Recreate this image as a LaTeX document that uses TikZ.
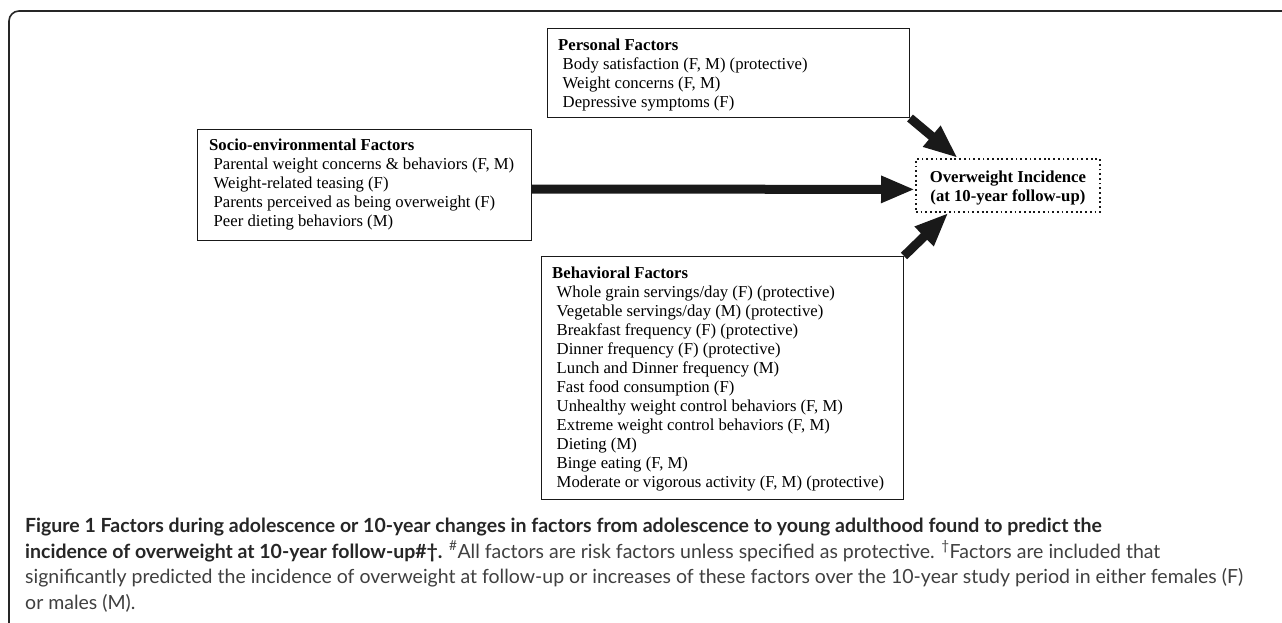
\documentclass[tikz,border=0pt]{standalone}
\usepackage{fontspec}
\setmainfont{Liberation Serif}
\newfontfamily\capfont{Lato}
\usetikzlibrary{arrows.meta,calc}
\newcommand\facitem[1]{\hspace*{4.5pt}#1}
\begin{document}
\begin{tikzpicture}[x=1pt,y=-1pt,
  framestyle/.style={draw=black!85, line width=1.6pt, rounded corners=10pt},
  factorbox/.style={draw=black!90, line width=1pt, inner sep=0pt, anchor=north west},
  owbox/.style={draw=black!90, line width=1.8pt, dash pattern=on 1.8pt off 2.9pt, inner sep=0pt, anchor=north west},
  boxtext/.style={anchor=base west, inner sep=0pt, font=\fontsize{16.7}{19}\selectfont},
  captext/.style={anchor=base west, inner sep=0pt, text=black!75, font=\capfont\fontsize{19.5}{25}\selectfont},
  fatarrow/.style={line width=9pt, draw=black!90, -{Triangle[length=34pt,width=25pt]}}]
\useasboundingbox (0,0) rectangle (1282,622);
\fill[white] (0,0) rectangle (1282,622);
% frame
\draw[framestyle] (9,623) -- (9,11) -- (1283,11);
% boxes
\node[factorbox, minimum width=362pt, minimum height=89pt] (pers) at (547,28) {};
\node[factorbox, minimum width=334pt, minimum height=111pt] (soc) at (197,129) {};
\node[factorbox, minimum width=362pt, minimum height=243pt] (beh) at (541,256) {};
\node[owbox, minimum width=184pt, minimum height=53pt] (ow) at (915,158) {};
% texts
\node[boxtext] (perst) at (558,50) {\begin{tabular}[t]{@{}l@{}}
\textbf{Personal Factors}\\
\facitem{Body satisfaction (F, M) (protective)}\\
\facitem{Weight concerns (F, M)}\\
\facitem{Depressive symptoms (F)}
\end{tabular}};
\node[boxtext] (soct) at (209,150) {\begin{tabular}[t]{@{}l@{}}
\textbf{Socio-environmental Factors}\\
\facitem{Parental weight concerns \& behaviors (F, M)}\\
\facitem{Weight-related teasing (F)}\\
\facitem{Parents perceived as being overweight (F)}\\
\facitem{Peer dieting behaviors (M)}
\end{tabular}};
\node[boxtext] (beht) at (552,278) {\begin{tabular}[t]{@{}l@{}}
\textbf{Behavioral Factors}\\
\facitem{Whole grain servings/day (F) (protective)}\\
\facitem{Vegetable servings/day (M) (protective)}\\
\facitem{Breakfast frequency (F) (protective)}\\
\facitem{Dinner frequency (F) (protective)}\\
\facitem{Lunch and Dinner frequency (M)}\\
\facitem{Fast food consumption (F)}\\
\facitem{Unhealthy weight control behaviors (F, M)}\\
\facitem{Extreme weight control behaviors (F, M)}\\
\facitem{Dieting (M)}\\
\facitem{Binge eating (F, M)}\\
\facitem{Moderate or vigorous activity (F, M) (protective)}
\end{tabular}};
\node[inner sep=0pt, font=\bfseries\fontsize{16.7}{19}\selectfont, yshift=-3pt] (owt) at (ow.center) {\begin{tabular}{@{}c@{}}
Overweight Incidence\\(at 10-year follow-up)\end{tabular}};
% arrows
\draw[fatarrow] ([yshift=-4pt]soc.east) -- ([yshift=-4pt]ow.west);
\draw[fatarrow] (pers.south east) -- ($(ow.north west)!0.23!(ow.north east)$);
\draw[fatarrow] (beh.north east) -- ($(ow.south west)!0.18!(ow.south east)$);
% caption
\node[captext] (cap1) at (25,532) {\textbf{\color{black!85}Figure 1 Factors during adolescence or 10-year changes in factors from adolescence to young adulthood found to predict the}};
\node[captext] (cap2) at (25,558) {\textbf{\color{black!85}incidence of overweight at 10-year follow-up\#†.} \textsuperscript{\#}All factors are risk factors unless specified as protective. \textsuperscript{†}Factors are included that};
\node[captext] (cap3) at (25,583) {significantly predicted the incidence of overweight at follow-up or increases of these factors over the 10-year study period in either females (F)};
\node[captext] (cap4) at (25,609) {or males (M).};
\end{tikzpicture}
\end{document}
